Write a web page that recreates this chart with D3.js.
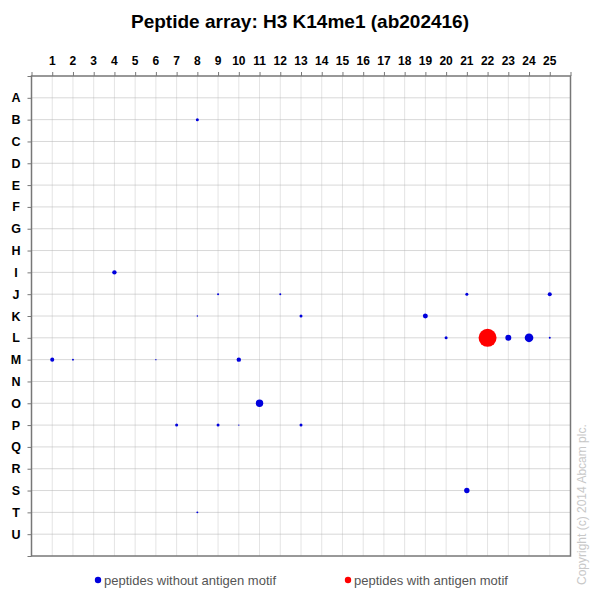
<!DOCTYPE html>
<html><head><meta charset="utf-8">
<script src="https://cdn.jsdelivr.net/npm/d3@7"></script>
<style>body{margin:0;background:#fff}svg{display:block}</style>
</head><body>
<svg id="c" width="599" height="599"></svg>
<script>
const title = "Peptide array: H3 K14me1 (ab202416)";
const colLabels = d3.range(1, 26).map(String);
const rowLabels = "ABCDEFGHIJKLMNOPQRSTU".split("");
// spots: row letter, column number, signal, has antigen motif
const spotRows = ["B","I","J","J","J","J","K","K","K","L","L","L","L","L","M","M","M","M","O","P","P","P","P","S","T"];
const spotCols = [8,4,9,12,21,25,8,13,19,20,22,23,24,25,1,2,6,10,11,7,9,10,13,21,8];
const spotValues = [2.8,6,1.2,1.2,2.8,5,0.6,2.8,7.7,2.8,100,11,23,1.2,5,1.2,0.6,6,17,2.8,2.8,0.6,2.8,9,1.2];
const spotMotif = [0,0,0,0,0,0,0,0,0,0,1,0,0,0,0,0,0,0,0,0,0,0,0,0,0];
const legendLabels = ["peptides without antigen motif","peptides with antigen motif"];
const copyright = "Copyright (c) 2014 Abcam plc.";

const svg = d3.select("#c");
const L = 31.5, R = 570.5, T = 76, B = 556;
const x = d3.scaleLinear().domain([0, 26]).range([L, R]);
const y = d3.scaleLinear().domain([0, 22]).range([T, B]);
const r = d3.scaleSqrt().domain([0, 100]).range([0, 9]);
const rowIdx = l => rowLabels.indexOf(l) + 1;

svg.append("text").attr("x", 300).attr("y", 28).attr("text-anchor", "middle")
  .attr("font-family", "Liberation Sans, Arial, sans-serif").attr("font-weight", "bold")
  .attr("font-size", 19).attr("fill", "#000").text(title);

const g = svg.append("g");
// vertical grid
g.selectAll("line.v").data(d3.range(1, 26)).join("line").attr("class", "v")
  .attr("x1", d => x(d)).attr("x2", d => x(d)).attr("y1", T).attr("y2", B)
  .attr("stroke", "#e4e4e4").attr("stroke-width", 1);
// horizontal grid
g.selectAll("line.h").data(d3.range(1, 22)).join("line").attr("class", "h")
  .attr("x1", L).attr("x2", R).attr("y1", d => y(d)).attr("y2", d => y(d))
  .attr("stroke", "#b0b0b0").attr("stroke-width", 1).attr("stroke-dasharray", "1,1");

// axes
const xAxis = d3.axisTop(x).tickValues(d3.range(0, 27)).tickSize(4).tickFormat("");
const ax = svg.append("g").attr("transform", `translate(0,${T})`).call(xAxis);
ax.select(".domain").remove();
ax.selectAll("line").attr("stroke", "#777");
const yAxis = d3.axisLeft(y).tickValues(d3.range(0, 23)).tickSize(4).tickFormat("");
const ay = svg.append("g").attr("transform", `translate(${L},0)`).call(yAxis);
ay.select(".domain").remove();
ay.selectAll("line").attr("stroke", "#777");

svg.append("g").selectAll("text").data(colLabels).join("text")
  .attr("x", (d, i) => x(i + 1)).attr("y", 65).attr("text-anchor", "middle")
  .attr("font-family", "Liberation Sans, Arial, sans-serif").attr("font-weight", "bold")
  .attr("font-size", 12).attr("fill", "#000").text(d => d);
svg.append("g").selectAll("text").data(rowLabels).join("text")
  .attr("x", 16).attr("y", (d, i) => y(i + 1) + 4.5).attr("text-anchor", "middle")
  .attr("font-family", "Liberation Sans, Arial, sans-serif").attr("font-weight", "bold")
  .attr("font-size", 12.5).attr("fill", "#000").text(d => d);

// frame
svg.append("rect").attr("x", L).attr("y", T).attr("width", R - L).attr("height", B - T)
  .attr("fill", "none").attr("stroke", "#777").attr("stroke-width", 1.5);

// spots
const spots = spotRows.map((row, i) => ({row, col: spotCols[i], v: spotValues[i], m: spotMotif[i]}));
svg.append("g").selectAll("circle").data(spots).join("circle")
  .attr("cx", d => x(d.col)).attr("cy", d => y(rowIdx(d.row))).attr("r", d => r(d.v))
  .attr("fill", d => d.m ? "#ff0000" : "#0000dd");

// legend
const lg = svg.append("g").attr("font-family", "Liberation Sans, Arial, sans-serif").attr("font-size", 13).attr("fill", "#555");
const lx = [98, 348];
legendLabels.forEach((t, i) => {
  lg.append("circle").attr("cx", lx[i]).attr("cy", 580).attr("r", 3.2).attr("fill", i ? "#ff0000" : "#0000dd");
  lg.append("text").attr("x", lx[i] + 6).attr("y", 584.5).attr("fill", "#555").text(t);
});

svg.append("text").attr("transform", "translate(586,585) rotate(-90)")
  .attr("font-family", "Liberation Sans, Arial, sans-serif").attr("font-size", 12)
  .attr("fill", "#c8c8c8").text(copyright);
</script>
</body></html>
